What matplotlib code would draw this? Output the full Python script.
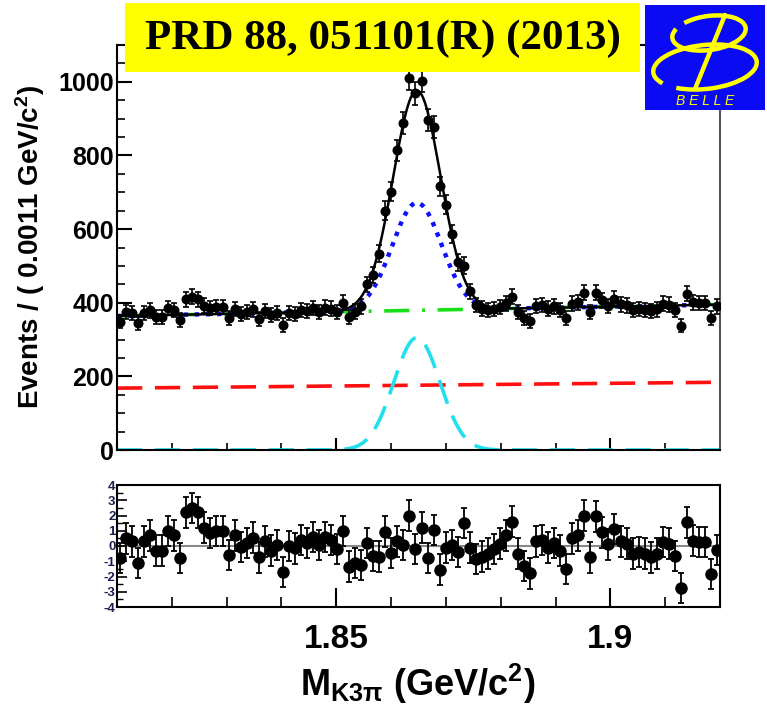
import numpy as np
import matplotlib.pyplot as plt
from matplotlib.patches import Rectangle, Arc
from matplotlib.ticker import MultipleLocator, FixedLocator

plt.rcParams['font.family'] = ['Liberation Sans', 'DejaVu Sans']
plt.rcParams['font.weight'] = 'bold'
plt.rcParams['mathtext.fontset'] = 'custom'
plt.rcParams['mathtext.rm'] = 'Liberation Sans:bold'
plt.rcParams['mathtext.it'] = 'Liberation Sans:bold'
plt.rcParams['mathtext.bf'] = 'Liberation Sans:bold'
plt.rcParams['mathtext.default'] = 'rm'

# 100 bins of 0.0011 GeV/c^2
x_lo, x_hi = 1.81, 1.92
bin_width = 0.0011
centers = x_lo + bin_width * (np.arange(100) + 0.5)

events = [349, 374, 371, 344, 371, 379, 360, 361, 386, 380,
          352, 410, 416, 410, 392, 385, 388, 389, 358, 383,
          369, 375, 382, 357, 377, 366, 373, 340, 373, 370,
          381, 378, 386, 375, 387, 384, 374, 400, 360, 376,
          390, 450, 475, 533, 650, 702, 814, 889, 1010, 969,
          1003, 896, 878, 716, 666, 587, 510, 501, 431, 394,
          384, 381, 383, 388, 398, 416, 375, 359, 350, 391,
          394, 384, 390, 381, 358, 397, 401, 427, 374, 427,
          407, 391, 411, 396, 393, 381, 383, 381, 377, 382,
          397, 395, 380, 338, 424, 401, 399, 399, 358, 390]

pulls = [-0.8, 0.5, 0.3, -1.1, 0.3, 0.7, -0.3, -0.3, 1.0, 0.7,
         -0.8, 2.2, 2.5, 2.2, 1.2, 0.85, 1.0, 1.0, -0.6, 0.7,
         -0.05, 0.2, 0.55, -0.75, 0.3, -0.3, 0.05, -1.7, 0.0, -0.15,
         0.4, 0.2, 0.6, 0.05, 0.6, 0.4, -0.2, 1.0, -1.35, -1.1,
         -1.25, 0.2, -0.65, -0.7, 0.95, -0.45, 0.3, 0.05, 2.0, -0.2,
         1.2, -0.8, 1.05, -1.55, -0.1, 0.05, -0.4, 1.5, -0.1, -0.85,
         -0.7, -0.5, -0.2, 0.15, 0.7, 1.6, -0.5, -1.3, -1.8, 0.3,
         0.4, -0.1, 0.2, -0.3, -1.5, 0.5, 0.7, 2.0, -0.75, 1.95,
         0.9, 0.1, 1.1, 0.3, 0.15, -0.5, -0.4, -0.5, -0.75, -0.5,
         0.25, 0.15, -0.65, -2.75, 1.55, 0.35, 0.25, 0.25, -1.85, -0.25]

# fit components: linear backgrounds (value at x_lo, x_hi) and two gaussians
bkg_total = (364.0, 395.0)
bkg_comb = (168.0, 184.0)
peak_mean = 1.8647
sig_amp, sig_width = 292.0, 0.0045
peak_bkg_amp, peak_bkg_width = 305.0, 0.0042

xs = np.linspace(x_lo, x_hi, 1200)

def linear(pars, x):
    return pars[0] + (pars[1] - pars[0]) * (x - x_lo) / (x_hi - x_lo)

def gauss(a, s, x):
    return a * np.exp(-0.5 * ((x - peak_mean) / s) ** 2)

green = linear(bkg_total, xs)
red = linear(bkg_comb, xs)
cyan = gauss(peak_bkg_amp, peak_bkg_width, xs)
blue = green + gauss(sig_amp, sig_width, xs)
total = blue + cyan

fig = plt.figure(figsize=(7.67, 7.11), dpi=100)
ax = fig.add_axes([117/767, 1 - 450/711, 603/767, 405/711])
axr = fig.add_axes([117/767, 1 - 607/711, 603/767, 122/711])

ax.plot(xs, red, color='#ff1010', lw=2.6, dashes=(7, 3.5), zorder=2)
ax.plot(xs, cyan, color='#20e0f0', lw=2.6, dashes=(7, 3.5), zorder=2)
ax.plot(xs, green, color='#18e018', lw=2.6, dashes=(7, 3.5, 0.8, 3.5), zorder=2)
ax.plot(xs, blue, color='#1010ff', lw=3.2, dashes=(1.0, 1.5), zorder=2)
ax.plot(xs, total, color='black', lw=1.8, zorder=3)
ax.errorbar(centers, events, yerr=np.sqrt(events), fmt='o', color='black',
            ms=6.2, elinewidth=1.2, capsize=2.2, capthick=1.2, zorder=4)

ax.set_xlim(x_lo, x_hi)
ax.set_ylim(0, 1100)
ax.yaxis.set_major_locator(FixedLocator([0, 200, 400, 600, 800, 1000]))
ax.yaxis.set_minor_locator(MultipleLocator(50))
ax.xaxis.set_major_locator(FixedLocator([1.85, 1.9]))
ax.xaxis.set_minor_locator(MultipleLocator(0.01))
ax.tick_params(axis='both', which='both', direction='in', top=False, right=False)
ax.tick_params(axis='y', which='major', length=11, width=1.5, labelsize=18, pad=2)
ax.tick_params(axis='y', which='minor', length=6, width=1.2)
ax.tick_params(axis='x', which='major', length=9, width=1.5, labelbottom=False)
ax.tick_params(axis='x', which='minor', length=5, width=1.2)
for s in ax.spines.values():
    s.set_linewidth(1.5)
ax.spines['right'].set_color('#555555')

# pull panel
axr.axhline(0, color='#888888', lw=1.5, zorder=1)
axr.errorbar(centers, pulls, yerr=1.0, fmt='o', color='black',
             ms=8, elinewidth=1.3, capsize=2.5, capthick=1.3, zorder=3)
axr.set_xlim(x_lo, x_hi)
axr.set_ylim(-4, 4)
axr.yaxis.set_major_locator(FixedLocator([-4, -3, -2, -1, 0, 1, 2, 3, 4]))
axr.yaxis.set_minor_locator(MultipleLocator(0.5))
axr.set_yticklabels(['-4', '-3', '-2', '-1', '0', '1', '2', '3', '4'])
axr.xaxis.set_major_locator(FixedLocator([1.85, 1.9]))
axr.xaxis.set_minor_locator(MultipleLocator(0.01))
axr.set_xticklabels(['1.85', '1.9'])
axr.tick_params(axis='both', which='both', direction='in', top=False, right=False)
axr.tick_params(axis='x', which='major', length=14, width=1.5, labelsize=24, pad=12)
axr.tick_params(axis='x', which='minor', length=7, width=1.2)
axr.tick_params(axis='y', which='major', length=7, width=1.2, labelsize=9.5, pad=1,
                labelcolor='#1a2050')
axr.tick_params(axis='y', which='minor', length=4, width=1.0)
for s in axr.spines.values():
    s.set_linewidth(1.5)

fig.text(30/767, 1 - 247/711, 'Events / ( 0.0011 GeV/c$^{2}$)', rotation=90,
         ha='center', va='center', fontsize=20, fontweight='bold')
fig.text(418/767, 1 - 684/711, r'M$_{K3\pi}$ (GeV/c$^{2}$)',
         ha='center', va='center', fontsize=26, fontweight='bold')

# reference banner
fig.add_artist(Rectangle((125/767, 1 - 72/711), 515/767, 69/711,
                         transform=fig.transFigure, facecolor='#ffff00',
                         edgecolor='none', zorder=10))
fig.text(383/767, 1 - 39/711, 'PRD 88, 051101(R) (2013)', ha='center', va='center',
         fontsize=31, fontweight='bold', family=['Liberation Serif', 'DejaVu Serif'],
         zorder=11)

# Belle logo
lg = fig.add_axes([645/767, 1 - 110/711, 120/767, 105/711], zorder=12)
lg.set_facecolor('#0a0af5')
lg.set_xlim(0, 120)
lg.set_ylim(105, 0)
lg.set_xticks([])
lg.set_yticks([])
for s in lg.spines.values():
    s.set_visible(False)
yel = '#ffff00'
lg.add_patch(Arc((64, 28), 74, 34, angle=-8, theta1=-150, theta2=195, color=yel, lw=3.2))
lg.add_patch(Arc((60, 62), 104, 44, angle=-6, theta1=-195, theta2=150, color=yel, lw=3.2))
lg.plot([80, 50], [10, 84], color=yel, lw=3.2, solid_capstyle='round')
lg.text(60, 96, 'B E L L E', color=yel, fontsize=10, fontstyle='italic',
        fontweight='normal', ha='center', va='center')

fig.savefig('out.png', dpi=100)
